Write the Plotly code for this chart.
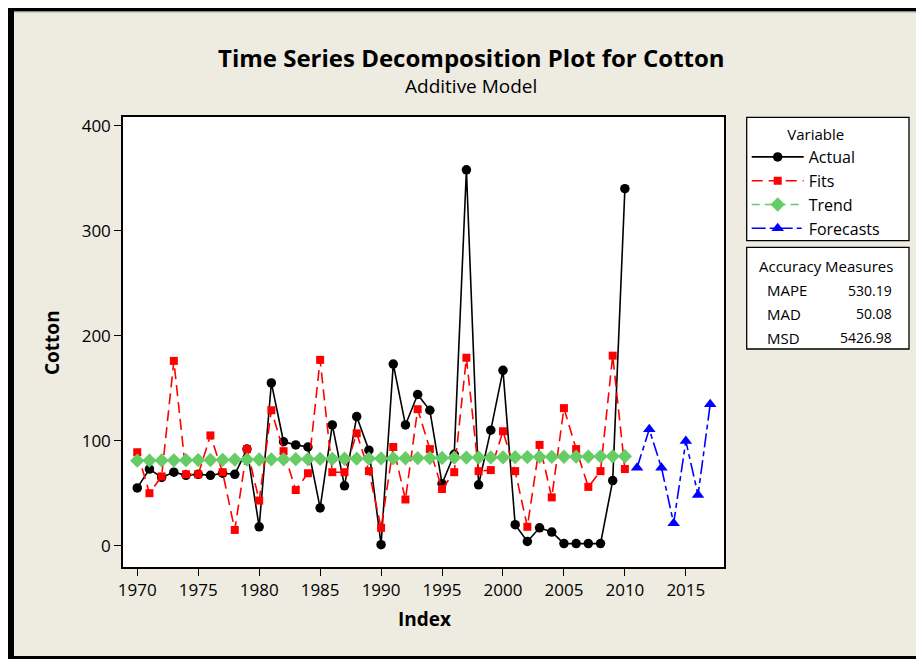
import plotly.graph_objects as go

# ---------------- data ----------------
years = list(range(1970, 2011))
forecast_years = [2011, 2012, 2013, 2014, 2015, 2016, 2017]

actual = [55, 73, 65, 70, 67, 68, 67, 69, 68, 92,
          18, 155, 99, 96, 94, 36, 115, 57, 123, 91,
          1, 173, 115, 144, 129, 59, 87, 358, 58, 110,
          167, 20, 4, 17, 13, 2, 2, 2, 2, 62,
          340]

fits = [89, 50, 66, 176, 68, 68, 105, 70, 15, 92,
        43, 129, 90, 53, 69, 177, 70, 70, 107, 71,
        17, 94, 44, 130, 92, 54, 70, 179, 71, 72,
        109, 71, 18, 96, 46, 131, 92, 56, 71, 181,
        73]

trend = [81.0, 81.1, 81.2, 81.3, 81.4, 81.5, 81.6, 81.8, 81.9, 82.0,
         82.1, 82.2, 82.3, 82.4, 82.5, 82.6, 82.7, 82.8, 82.9, 83.0,
         83.1, 83.2, 83.3, 83.4, 83.5, 83.6, 83.8, 83.9, 84.0, 84.1,
         84.2, 84.3, 84.4, 84.5, 84.6, 84.7, 84.8, 84.9, 85.0, 85.1,
         85.2]

forecasts = [74.3, 110.8, 74.3, 21.3, 99.7, 48.3, 134.7]

x_ticks = [1970, 1975, 1980, 1985, 1990, 1995, 2000, 2005, 2010, 2015]
y_ticks = [0, 100, 200, 300, 400]

accuracy_names = ["MAPE", "MAD", "MSD"]
accuracy_values = ["530.19", "50.08", "5426.98"]

# ---------------- styling ----------------
FONT = "Open Sans, Noto Sans, sans-serif"
BEIGE = "#EEEBE1"

OFF = 8                      # page body margin of the html page
PAGE_W, PAGE_H = 924, 659
W, H = PAGE_W - OFF, PAGE_H - OFF
L, R, T, B = 123, 724, 117, 567   # plot area in page pixels


def px(xp):
    return (xp - L) / (R - L)


def py(yp):
    return (B - yp) / (B - T)


fig = go.Figure()

fig.add_trace(go.Scatter(
    x=years, y=actual, name="Actual", mode="lines+markers",
    line=dict(color="black", width=1.6),
    marker=dict(symbol="circle", size=9.5, color="black")))

fig.add_trace(go.Scatter(
    x=years, y=fits, name="Fits", mode="lines+markers",
    line=dict(color="#FF0000", width=1.6, dash="11px,6px"),
    marker=dict(symbol="square", size=8, color="#FF0000")))

fig.add_trace(go.Scatter(
    x=years, y=trend, name="Trend", mode="lines+markers",
    line=dict(color="#66CC66", width=1.6, dash="8px,5px"),
    marker=dict(symbol="diamond", size=11, color="#66CC66")))

fig.add_trace(go.Scatter(
    x=forecast_years, y=forecasts, name="Forecasts", mode="lines+markers",
    line=dict(color="#0000FF", width=1.6, dash="14px,4px,5px,4px"),
    marker=dict(symbol="triangle-up", size=11, color="#0000FF")))

axis_common = dict(
    showline=True, linecolor="black", linewidth=1.5, mirror=True,
    ticks="outside", ticklen=7, tickwidth=1.3, tickcolor="black",
    showgrid=False, zeroline=False,
    tickfont=dict(family=FONT, size=17, color="black"),
)

fig.update_xaxes(range=[1968.83, 2018.13], tickvals=x_ticks, **axis_common)
fig.update_yaxes(range=[-20.3, 408.3], tickvals=y_ticks, **axis_common)

shapes = []
# legend box and accuracy box
shapes.append(dict(type="rect", xref="paper", yref="paper",
                   x0=px(746.7), x1=px(909), y0=py(240.7), y1=py(117.3),
                   line=dict(color="black", width=1.3), fillcolor="white",
                   layer="below"))
shapes.append(dict(type="rect", xref="paper", yref="paper",
                   x0=px(746.7), x1=px(909), y0=py(349), y1=py(247.3),
                   line=dict(color="black", width=1.3), fillcolor="white",
                   layer="below"))
# outer frame
shapes.append(dict(type="rect", xref="paper", yref="paper",
                   x0=px(0), x1=px(PAGE_W), y0=py(11.5), y1=py(0),
                   line=dict(width=0), fillcolor="black"))
shapes.append(dict(type="rect", xref="paper", yref="paper",
                   x0=px(14), x1=px(PAGE_W), y0=py(12.5), y1=py(11.5),
                   line=dict(width=0), fillcolor="#A8A8A0"))
shapes.append(dict(type="rect", xref="paper", yref="paper",
                   x0=px(0), x1=px(14), y0=py(PAGE_H), y1=py(0),
                   line=dict(width=0), fillcolor="black"))
shapes.append(dict(type="rect", xref="paper", yref="paper",
                   x0=px(0), x1=px(PAGE_W), y0=py(PAGE_H), y1=py(656),
                   line=dict(width=0), fillcolor="black"))

annotations = []
annotations.append(dict(text="<b>Time Series Decomposition Plot for Cotton</b>",
                        xref="paper", yref="paper", x=px(471.5), y=py(57),
                        xanchor="center", yanchor="middle", showarrow=False,
                        font=dict(family=FONT, size=24, color="black")))
annotations.append(dict(text="Additive Model",
                        xref="paper", yref="paper", x=px(471), y=py(86),
                        xanchor="center", yanchor="middle", showarrow=False,
                        font=dict(family=FONT, size=19, color="black")))
annotations.append(dict(text="<b>Index</b>",
                        xref="paper", yref="paper", x=px(424), y=py(619),
                        xanchor="center", yanchor="middle", showarrow=False,
                        font=dict(family=FONT, size=19, color="black")))
annotations.append(dict(text="<b>Cotton</b>", textangle=-90,
                        xref="paper", yref="paper", x=px(52), y=py(343),
                        xanchor="center", yanchor="middle", showarrow=False,
                        font=dict(family=FONT, size=19, color="black")))
annotations.append(dict(text="Accuracy Measures",
                        xref="paper", yref="paper", x=px(757), y=py(266),
                        xanchor="left", yanchor="middle", showarrow=False,
                        font=dict(family=FONT, size=15, color="black")))
rows_y = [290, 313.7, 337.7]
for name, val, yy in zip(accuracy_names, accuracy_values, rows_y):
    annotations.append(dict(text=name, xref="paper", yref="paper",
                            x=px(765), y=py(yy), xanchor="left", yanchor="middle",
                            showarrow=False,
                            font=dict(family=FONT, size=15, color="black")))
    annotations.append(dict(text=val, xref="paper", yref="paper",
                            x=px(894), y=py(yy), xanchor="right", yanchor="middle",
                            showarrow=False,
                            font=dict(family=FONT, size=14, color="black")))

fig.update_layout(
    width=W, height=H, autosize=False,
    margin=dict(l=L - OFF, r=PAGE_W - R, t=T - OFF, b=PAGE_H - B, pad=0),
    paper_bgcolor=BEIGE, plot_bgcolor="white",
    showlegend=True,
    legend=dict(
        x=px(746.7), y=py(120.5), xanchor="left", yanchor="top",
        bgcolor="rgba(0,0,0,0)", borderwidth=0,
        font=dict(family=FONT, size=16, color="black"),
        title=dict(text="Variable", side="top center",
                   font=dict(family=FONT, size=15, color="black")),
        itemwidth=52, tracegroupgap=0,
    ),
    shapes=shapes,
    annotations=annotations,
    font=dict(family=FONT, color="black"),
)

fig.write_html("out.html")
